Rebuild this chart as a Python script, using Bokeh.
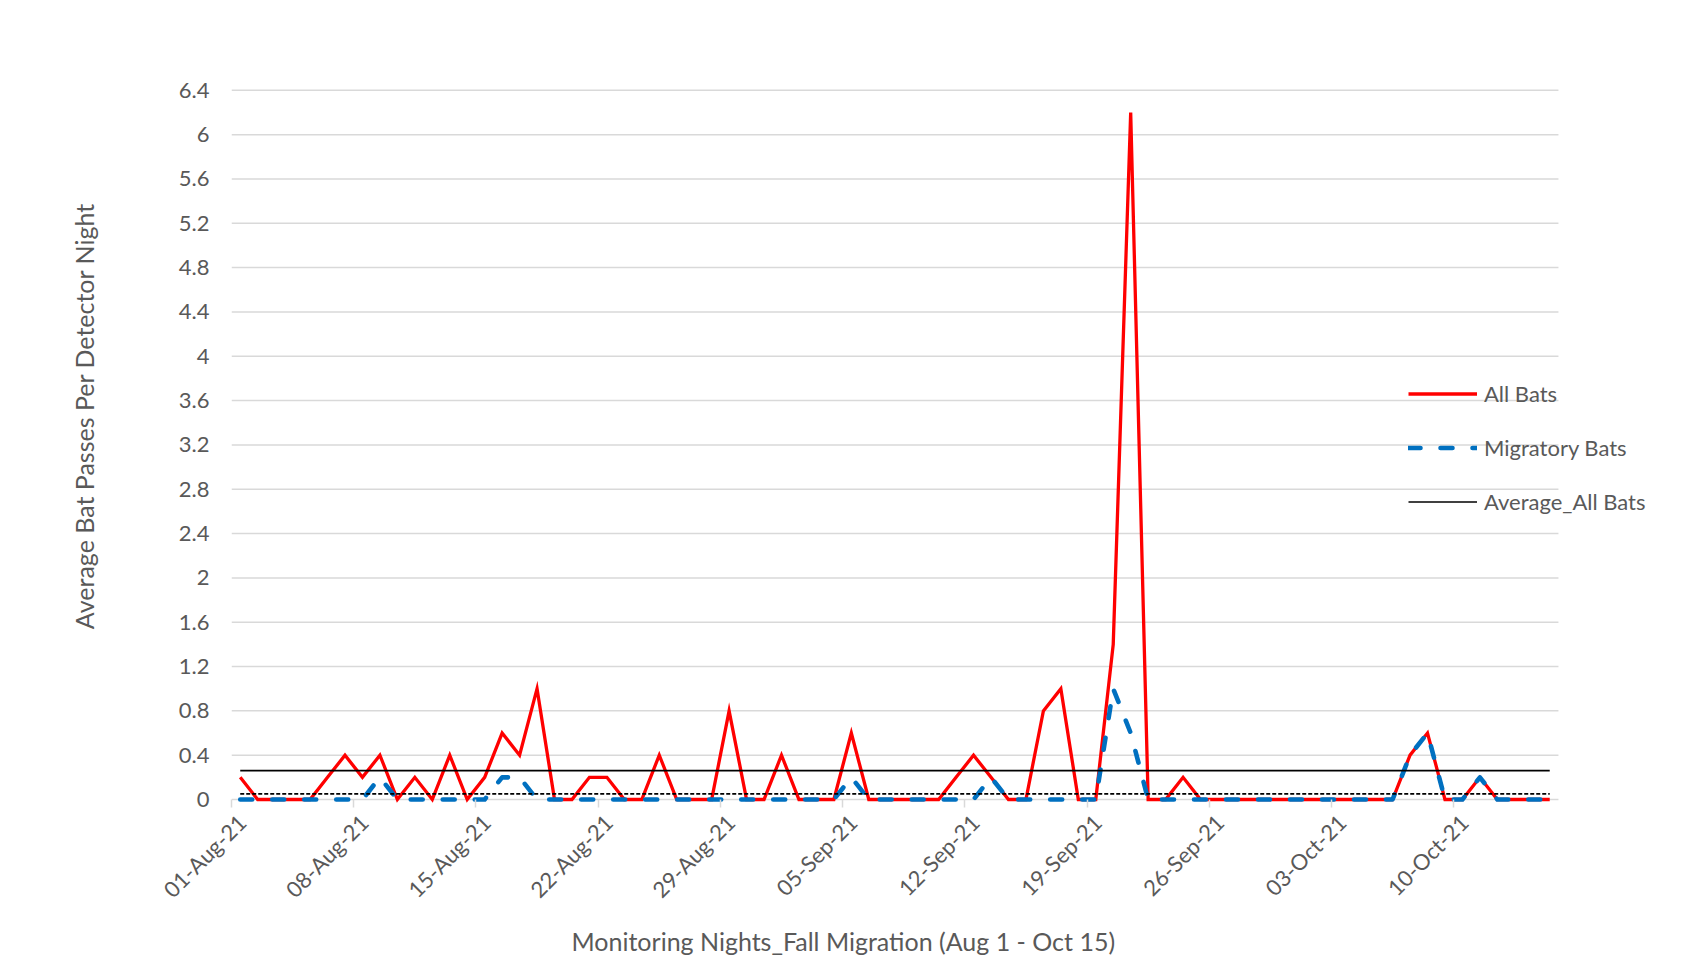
import numpy as np
from math import pi
from bokeh.plotting import figure
from bokeh.models import (Range1d, FixedTicker, Legend, LegendItem, LinearAxis,
                          CustomJSTickFormatter, Title, ColumnDataSource)
from bokeh.embed import file_html
from bokeh.resources import INLINE

# ---------------- data ----------------
nights = list(range(76))  # 01-Aug-21 ... 15-Oct-21, one entry per monitoring night

all_bats = [0.2, 0, 0, 0, 0, 0.2, 0.4, 0.2, 0.4, 0,
            0.2, 0, 0.4, 0, 0.2, 0.6, 0.4, 1.0, 0, 0,
            0.2, 0.2, 0, 0, 0.4, 0, 0, 0, 0.8, 0,
            0, 0.4, 0, 0, 0, 0.6, 0, 0, 0, 0,
            0, 0.2, 0.4, 0.2, 0, 0, 0.8, 1.0, 0, 0,
            1.4, 6.2, 0, 0, 0.2, 0, 0, 0, 0, 0,
            0, 0, 0, 0, 0, 0, 0, 0.4, 0.6, 0,
            0, 0.2, 0, 0, 0, 0]

migratory_bats = [0, 0, 0, 0, 0, 0, 0, 0, 0.2, 0,
                  0, 0, 0, 0, 0, 0.2, 0.2, 0, 0, 0,
                  0, 0, 0, 0, 0, 0, 0, 0, 0, 0,
                  0, 0, 0, 0, 0, 0.2, 0, 0, 0, 0,
                  0, 0, 0, 0.2, 0, 0, 0, 0, 0, 0,
                  1.0, 0.6, 0, 0, 0, 0, 0, 0, 0, 0,
                  0, 0, 0, 0, 0, 0, 0, 0.4, 0.6, 0,
                  0, 0.2, 0, 0, 0, 0]

average_all_bats = 0.26
average_migratory_bats = 0.05

x_tick_nights = [0, 7, 14, 21, 28, 35, 42, 49, 56, 63, 70]
x_tick_labels = ["01-Aug-21", "08-Aug-21", "15-Aug-21", "22-Aug-21", "29-Aug-21",
                 "05-Sep-21", "12-Sep-21", "19-Sep-21", "26-Sep-21", "03-Oct-21",
                 "10-Oct-21"]
y_ticks = [0, 0.4, 0.8, 1.2, 1.6, 2, 2.4, 2.8, 3.2, 3.6, 4, 4.4, 4.8, 5.2, 5.6, 6, 6.4]

# ---------------- layout constants ----------------
FONT = "Lato"
GREY = "#595959"
GRID = "#d9d9d9"

W, H = 1677, 963
X0, X1 = -0.5, 75.5            # data extent of the category axis
PX_PER_NIGHT = 17.46
PX_PER_UNIT = 111.1
FRAME_LEFT, FRAME_TOP = 231, 28      # canvas pixels
ZERO_Y, FRAME_BOTTOM = 801, 805      # value 0 line, frame bottom (a little below, so lines at 0 are not clipped)
GAP = FRAME_BOTTOM - ZERO_Y
frame_w = W - FRAME_LEFT

p = figure(width=W, height=H, output_backend="svg", toolbar_location=None,
           x_range=Range1d(X0, X0 + frame_w / PX_PER_NIGHT),
           y_range=Range1d(-GAP / PX_PER_UNIT, (ZERO_Y - FRAME_TOP) / PX_PER_UNIT),
           min_border_left=FRAME_LEFT, min_border_right=0,
           min_border_top=FRAME_TOP, min_border_bottom=H - FRAME_BOTTOM)
p.outline_line_color = None
p.background_fill_color = "white"
p.border_fill_color = "white"
p.xgrid.visible = False
p.ygrid.visible = False

# horizontal gridlines limited to the category extent (the 0 line is the axis line)
p.segment(x0=[X0] * len(y_ticks), x1=[X1] * len(y_ticks), y0=y_ticks, y1=y_ticks,
          line_color=GRID, line_width=1.5, level="underlay")

# y axis
p.yaxis.ticker = FixedTicker(ticks=y_ticks)
p.yaxis.formatter = CustomJSTickFormatter(code="return String(Math.round(tick*10)/10);")
p.yaxis.axis_line_color = None
p.yaxis.major_tick_line_color = None
p.yaxis.minor_tick_line_color = None
p.yaxis.major_tick_out = 0
p.yaxis.major_tick_in = 0
p.yaxis.major_label_standoff = 22
p.yaxis.major_label_text_font = FONT
p.yaxis.major_label_text_font_size = "22px"
p.yaxis.major_label_text_color = GREY
p.yaxis.axis_label = "Average Bat Passes Per Detector Night"
p.yaxis.axis_label_standoff = 77
p.yaxis.axis_label_text_font = FONT
p.yaxis.axis_label_text_font_size = "25px"
p.yaxis.axis_label_text_font_style = "normal"
p.yaxis.axis_label_text_color = GREY

# x axis: tick marks between nights
tick_pos = [n - 0.5 for n in x_tick_nights]
p.xaxis.ticker = FixedTicker(ticks=tick_pos)
p.xaxis.formatter = CustomJSTickFormatter(code="return '';")
p.xaxis.bounds = (X0, X1)
p.xaxis.axis_line_color = None
p.xaxis.major_tick_line_color = GRID
p.xaxis.major_tick_line_width = 1.5
p.xaxis.major_tick_out = 8 - GAP
p.xaxis.major_tick_in = GAP
p.xaxis.minor_tick_line_color = None
p.xaxis.major_label_standoff = 0

# second x axis carrying the rotated date labels
LABEL_SHIFT = 0.6  # nights
lab_pos = [n - 0.5 + LABEL_SHIFT for n in x_tick_nights]
lab_axis = LinearAxis(ticker=FixedTicker(ticks=lab_pos),
                      major_label_overrides={t: s for t, s in zip(lab_pos, x_tick_labels)},
                      major_label_orientation=pi / 4,
                      axis_line_color=None, major_tick_line_color=None,
                      minor_tick_line_color=None, major_tick_out=0, major_tick_in=0,
                      major_label_standoff=11,
                      major_label_text_font=FONT, major_label_text_font_size="22px",
                      major_label_text_color=GREY)
p.add_layout(lab_axis, "below")

p.add_layout(Title(text="Monitoring Nights_Fall Migration (Aug 1 - Oct 15)",
                   align="left", offset=340, vertical_align="bottom", standoff=16,
                   text_font=FONT, text_font_size="25px", text_font_style="normal",
                   text_color=GREY), "below")

# ---------------- series ----------------
src = ColumnDataSource(dict(x=nights, all=all_bats, mig=migratory_bats,
                            avg_all=[average_all_bats] * len(nights),
                            avg_mig=[average_migratory_bats] * len(nights)))

r_all = p.line("x", "all", source=src, line_color="#ff0000", line_width=3.3,
               line_join="miter")
r_mig = p.line("x", "mig", source=src, line_color="#0070c0", line_width=4.6,
               line_dash="12 20", line_cap="round", line_join="round")
r_avg = p.line("x", "avg_all", source=src, line_color="black", line_width=1.7)
r_avgm = p.line("x", "avg_mig", source=src, line_color="black", line_width=1.7,
                line_dash="4 2")

legend = Legend(items=[LegendItem(label="All Bats", renderers=[r_all]),
                       LegendItem(label="Migratory Bats", renderers=[r_mig]),
                       LegendItem(label="Average_All Bats", renderers=[r_avg])],
                location=(1177, 288), orientation="vertical",
                background_fill_alpha=0, border_line_color=None,
                padding=0, margin=0, spacing=27,
                glyph_width=69, glyph_height=27, label_height=27,
                label_standoff=7,
                label_text_font=FONT, label_text_font_size="22px",
                label_text_color=GREY)
p.add_layout(legend, "center")

open("out.html", "w").write(file_html(p, INLINE))
